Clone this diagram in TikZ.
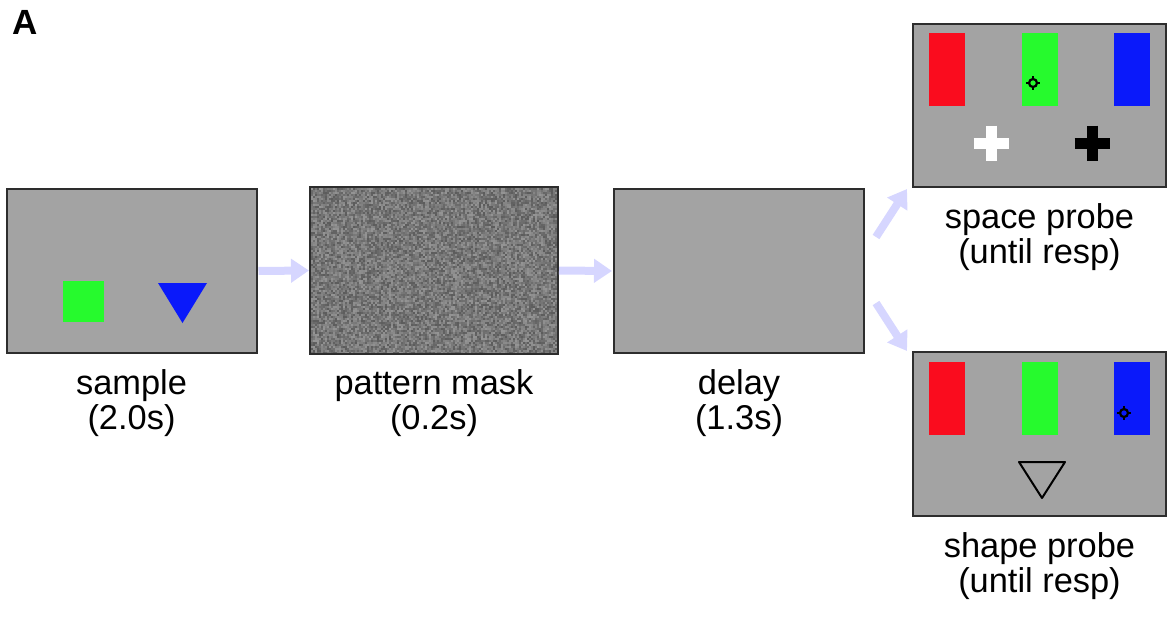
\documentclass[tikz,border=0pt]{standalone}
\usepackage{fontspec}
\setmainfont{Liberation Sans}
\usetikzlibrary{arrows.meta}
\definecolor{screengray}{RGB}{163,163,163}
\definecolor{framegray}{RGB}{45,45,45}
\definecolor{flowblue}{RGB}{214,214,255}
\definecolor{stimred}{RGB}{250,12,30}
\definecolor{stimgreen}{RGB}{38,250,45}
\definecolor{stimblue}{RGB}{10,25,250}
\newcommand{\cell}{2}

\begin{document}
\begin{tikzpicture}[x=0.5pt, y=-0.5pt,
    screen/.style={draw=framegray, line width=1pt, fill=screengray, rectangle, minimum width=125pt, minimum height=82pt, inner sep=0pt},
    screenlabel/.style={font=\fontsize{17.2pt}{17.5pt}\selectfont, align=center, anchor=base, inner sep=0pt},
    flow/.style={draw=flowblue, line width=4pt, -{Triangle[width=11.5pt, length=9pt]}},
    bar/.style={minimum width=18pt, minimum height=36.5pt, inner sep=0pt, rectangle},
    target/.style={line width=1.1pt}]
    \useasboundingbox (0,0) rectangle (1172,616);

    % Panel letter
    \node[font=\fontsize{17.5pt}{17.5pt}\selectfont\bfseries, anchor=base west, inner sep=0pt] (panel) at (12.5,34) {A};

    % Screens
    \node[screen] (sample) at (131.5,271) {};
    \node[screen, minimum width=123pt, minimum height=82.5pt] (mask) at (434,270.5) {};
    \node[screen] (delay) at (739,271) {};
    \node[screen, minimum width=126.5pt, minimum height=81.5pt] (space) at (1039.5,105.5) {};
    \node[screen, minimum width=126.5pt] (shape) at (1039.5,434) {};

    % Noise of the pattern mask
    \pgfmathsetseed{7}
    \begin{scope}
        \clip (311,188) rectangle (557,353);
        \foreach \i in {0,...,122}
            \foreach \j in {0,...,82} {
                \pgfmathrandominteger{\g}{42}{64}
                \fill[black!\g] (311+\cell*\i,188+\cell*\j) rectangle +(\cell,\cell);
            }
    \end{scope}
    \draw[draw=framegray, line width=1pt] (mask.south west) rectangle (mask.north east);

    % Sample items
    \fill[stimgreen] (63,281) rectangle (104,322);
    \fill[stimblue] (158,283) -- (207,283) -- (182.5,323) -- cycle;

    % Space probe
    \node[bar, fill=stimred] (space-red) at (947,69.5) {};
    \node[bar, fill=stimgreen] (space-green) at (1040,69.5) {};
    \node[bar, fill=stimblue] (space-blue) at (1132,69.5) {};
    \draw[target] (1033,83) circle[radius=4];
    \draw[target] (1033,76) -- (1033,79) (1033,87) -- (1033,90) (1026,83) -- (1029,83) (1037,83) -- (1040,83);
    \draw[white, line width=5.5pt] (973.5,143) -- (1008.5,143) (991,125.5) -- (991,160.5);
    \draw[black, line width=5.5pt] (1074.5,143) -- (1109.5,143) (1092,125.5) -- (1092,160.5);

    % Shape probe
    \node[bar, fill=stimred] (shape-red) at (947,398) {};
    \node[bar, fill=stimgreen] (shape-green) at (1040,398) {};
    \node[bar, fill=stimblue] (shape-blue) at (1132,398) {};
    \draw[target] (1124,413) circle[radius=4];
    \draw[target] (1124,406) -- (1124,409) (1124,417) -- (1124,420) (1117,413) -- (1120,413) (1128,413) -- (1131,413);
    \draw[line width=1pt, line join=round] (1019,462) -- (1065,462) -- (1042,498) -- cycle;

    % Arrows
    \draw[flow, shorten <=0.5pt, shorten >=0.5pt] (sample.east) -- (mask.west);
    \draw[flow, shorten <=0.5pt, shorten >=0.5pt] (mask.east) -- (delay.west);
    \draw[flow] ([shift={(11,-34)}]delay.east) -- ([shift={(-5,1)}]space.south west);
    \draw[flow] ([shift={(11,32)}]delay.east) -- ([shift={(-5,0)}]shape.north west);

    % Labels (anchored on the baseline of the second line)
    \node[screenlabel] (sample-label) at (131.5,429) {sample\\(2.0s)};
    \node[screenlabel] (mask-label) at (434,429) {pattern mask\\(0.2s)};
    \node[screenlabel] (delay-label) at (739,429) {delay\\(1.3s)};
    \node[screenlabel] (space-label) at (1039.5,263) {space probe\\(until resp)};
    \node[screenlabel] (shape-label) at (1039.5,592) {shape probe\\(until resp)};
\end{tikzpicture}
\end{document}
